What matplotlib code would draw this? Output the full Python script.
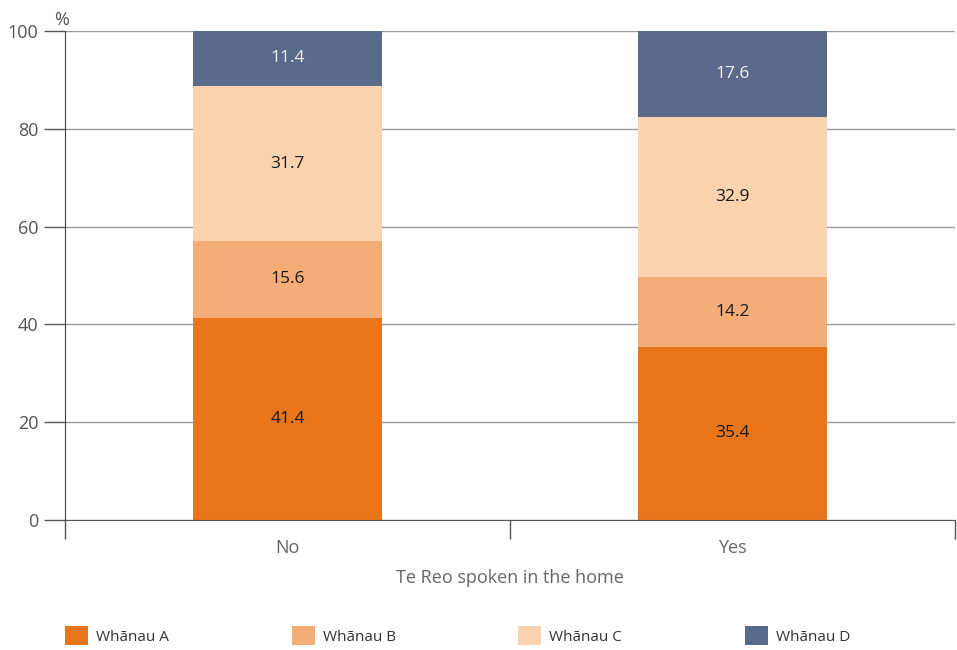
import matplotlib.pyplot as plt
from matplotlib.patches import Patch

plt.rcParams['font.family'] = ['Open Sans', 'DejaVu Sans']

categories = ["No", "Yes"]
series = ["Whānau A", "Whānau B", "Whānau C", "Whānau D"]
whanau_a = [41.4, 35.4]
whanau_b = [15.6, 14.2]
whanau_c = [31.7, 32.9]
whanau_d = [11.4, 17.6]
values = [whanau_a, whanau_b, whanau_c, whanau_d]
colors = ["#E8751A", "#F5AD78", "#FCD3AE", "#596A8A"]
text_colors = ["#1a1a1a", "#1a1a1a", "#1a1a1a", "#f0f0f0"]

fig = plt.figure(figsize=(9.57, 6.5), dpi=100)
ax = fig.add_axes([0.0679, 0.2, 0.93, 0.7523])

x = list(range(len(categories)))
bottom = [0, 0]
for vals, col, tcol, name in zip(values, colors, text_colors, series):
    ax.bar(x, vals, bottom=bottom, width=0.426, color=col, label=name, zorder=3)
    for xi, v, b in zip(x, vals, bottom):
        ax.text(xi, b + v / 2, f"{v:.1f}", ha="center", va="center",
                fontsize=12.5, color=tcol, zorder=4)
    bottom = [b + v for b, v in zip(bottom, vals)]

ax.set_xlim(-0.5, 1.5)
ax.set_ylim(0, 100)
ax.set_yticks(range(0, 101, 20))
ax.yaxis.grid(True, color="#9a9a9a", linewidth=1, zorder=0)
ax.tick_params(axis="y", length=15, width=1, color="#555555", labelsize=13,
               labelcolor="#555555", pad=4)
ax.set_xticks(x)
ax.set_xticklabels(categories)
ax.tick_params(axis="x", length=0, labelsize=13, labelcolor="#666666", pad=14)
ax.set_xticks([-0.5, 0.5, 1.5], minor=True)
ax.tick_params(axis="x", which="minor", length=14, width=1, color="#555555")
for s in ["top", "right"]:
    ax.spines[s].set_visible(False)
ax.spines["left"].set_color("#444444")
ax.spines["bottom"].set_color("#555555")
ax.spines["bottom"].set_zorder(5)
ax.set_xlabel("Te Reo spoken in the home", fontsize=13, color="#666666", labelpad=8)
ax.text(-0.012, 1.005, "%", transform=ax.transAxes, fontsize=13, color="#555555",
        ha="left", va="bottom")

# one legend entry per slot, spaced like the reference
legend_x = [65, 292, 518, 745]
for lx, col, name in zip(legend_x, colors, series):
    leg = fig.legend([Patch(facecolor=col)], [name], loc="lower left",
                     bbox_to_anchor=(lx / 957, 5 / 650), frameon=False,
                     fontsize=11, handlelength=1.5, handleheight=1.5,
                     handletextpad=0.55, borderpad=0, borderaxespad=0,
                     labelcolor="#333333")

plt.savefig("out.png", dpi=100)
